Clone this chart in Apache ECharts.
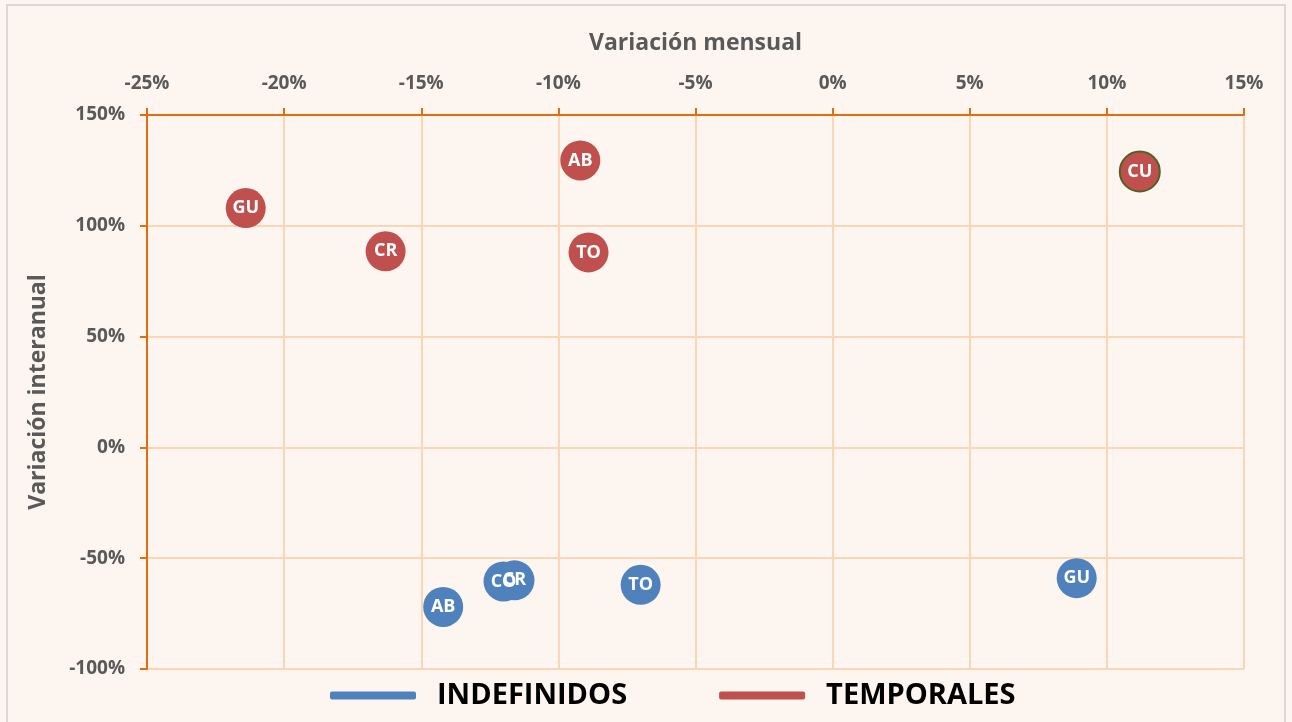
<!DOCTYPE html>
<html>
<head>
<meta charset="utf-8">
<script src="https://cdn.jsdelivr.net/npm/echarts@6/dist/echarts.min.js"></script>
<style>
  html, body { margin: 0; padding: 0; background: #fdf5f0; }
  #main { position: absolute; left: 0; top: 0; width: 1292px; height: 722px; }
  #frame { position: absolute; left: 6px; top: 4px; width: 1280px; height: 730px; border: 2px solid #d9d9d9; box-sizing: border-box; pointer-events: none; }
</style>
</head>
<body>
<div id="main"></div>
<div id="frame"></div>
<script>
    // datos (% variación mensual, % variación interanual)
    var indefMensual = [-14.2, -11.6, -12.0, 8.9, -7.0];
    var indefInteranual = [-72, -60, -60.5, -59, -62];
    var indefEtiquetas = ['AB', 'CR', 'CO', 'GU', 'TO'];
    var tempMensual = [-9.2, -16.3, 11.2, -21.4, -8.9];
    var tempInteranual = [129.5, 88.5, 124.5, 108, 88];
    var tempEtiquetas = ['AB', 'CR', 'CU', 'GU', 'TO'];

    var myChart = echarts.init(document.getElementById('main'));
    var fuente = 'Open Sans';

    function puntos(xs, ys, nombres) {
        var d = [];
        for (var i = 0; i < xs.length; i++) {
            var p = { value: [xs[i], ys[i]], name: nombres[i] };
            if (nombres[i] === 'CU') {
                p.itemStyle = { borderColor: '#4f6228', borderWidth: 2 };
            }
            d.push(p);
        }
        return d;
    }

    var etiquetaBurbuja = {
        show: true,
        position: 'inside',
        formatter: '{b}',
        color: '#ffffff',
        fontFamily: fuente,
        fontWeight: 'bold',
        fontSize: 18
    };

    var option = {
        backgroundColor: '#fdf5f0',
        textStyle: { fontFamily: fuente },
        grid: { left: 147, right: 48, top: 115, bottom: 53 },
        legend: {
            top: 676,
            left: 325,
            icon: 'roundRect',
            itemWidth: 86,
            itemHeight: 8,
            itemGap: 92,
            textStyle: {
                fontFamily: fuente,
                fontWeight: 'bold',
                fontSize: 29,
                color: '#000000',
                padding: [0, 0, 0, 16]
            },
            data: ['INDEFINIDOS', 'TEMPORALES']
        },
        xAxis: {
            type: 'value',
            position: 'top',
            min: -25, max: 15, interval: 5,
            name: 'Variación mensual',
            nameLocation: 'middle',
            nameGap: 60,
            nameTextStyle: { color: '#595959', fontWeight: 'bold', fontSize: 23, fontFamily: fuente },
            axisLine: { show: true, onZero: false, lineStyle: { color: '#e46c0a', width: 2 } },
            axisTick: { show: true, length: 7, lineStyle: { color: '#e46c0a', width: 2 } },
            axisLabel: { formatter: '{value}%', color: '#595959', fontWeight: 'bold', fontSize: 19, margin: 22 },
            splitLine: { show: true, lineStyle: { color: '#fcd5b4', width: 2 } }
        },
        yAxis: {
            type: 'value',
            min: -100, max: 150, interval: 50,
            name: 'Variación interanual',
            nameLocation: 'middle',
            nameGap: 97,
            nameTextStyle: { color: '#595959', fontWeight: 'bold', fontSize: 23, fontFamily: fuente },
            axisLine: { show: true, onZero: false, lineStyle: { color: '#e46c0a', width: 2 } },
            axisTick: { show: true, length: 7, lineStyle: { color: '#e46c0a', width: 2 } },
            axisLabel: { formatter: '{value}%', color: '#595959', fontWeight: 'bold', fontSize: 19, margin: 22 },
            splitLine: { show: true, lineStyle: { color: '#fcd5b4', width: 2 } }
        },
        series: [
            {
                name: 'INDEFINIDOS',
                type: 'scatter',
                symbolSize: 40,
                itemStyle: { color: '#4f81bd', opacity: 1 },
                label: etiquetaBurbuja,
                data: puntos(indefMensual, indefInteranual, indefEtiquetas)
            },
            {
                name: 'TEMPORALES',
                type: 'scatter',
                symbolSize: 40,
                itemStyle: { color: '#c0504d', opacity: 1 },
                label: etiquetaBurbuja,
                data: puntos(tempMensual, tempInteranual, tempEtiquetas)
            }
        ]
    };

    myChart.setOption(option);
    window.addEventListener('resize', function () {
        myChart.resize();
    });
</script>
</body>
</html>
